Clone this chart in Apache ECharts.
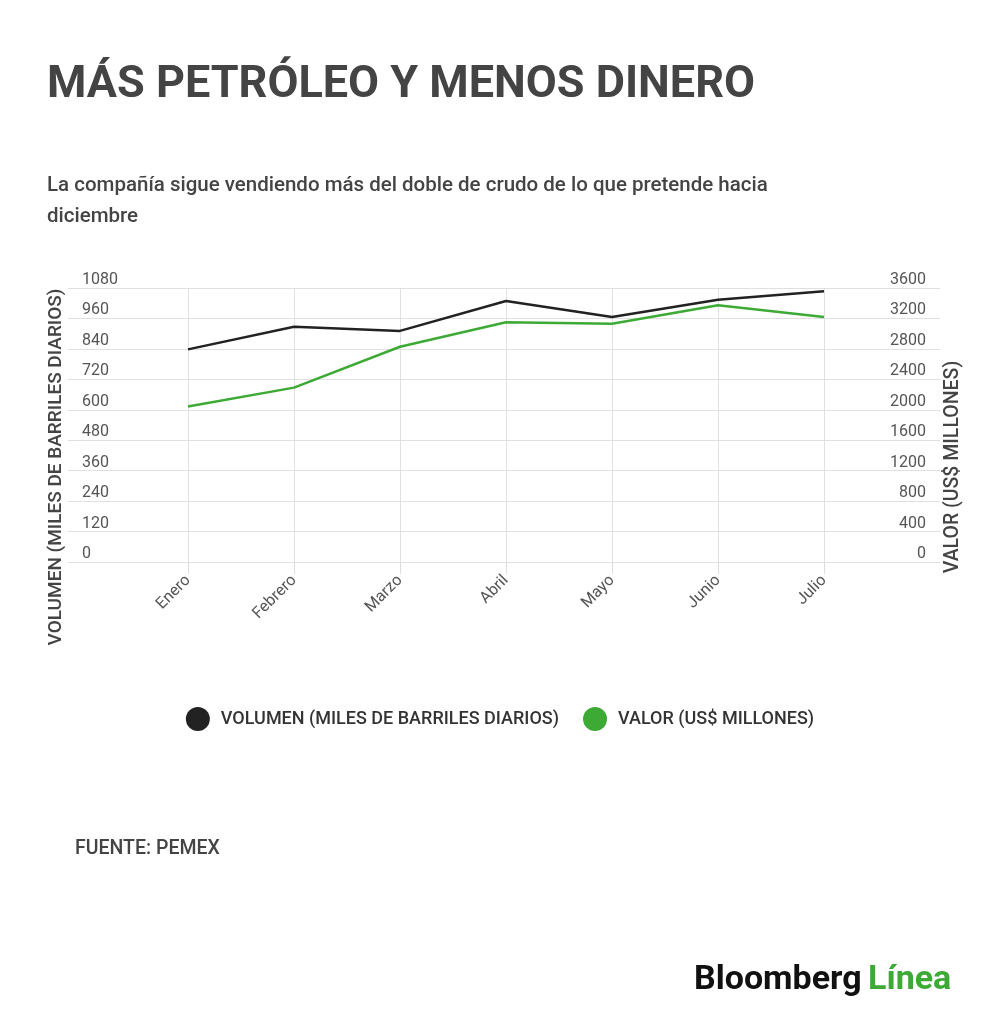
<!DOCTYPE html><html><head><meta charset="utf-8"><script src="https://cdn.jsdelivr.net/npm/echarts@6/dist/echarts.min.js"></script>
<style>body{margin:0;background:#fff}#c{width:1000px;height:1027px}</style></head><body><div id="c"></div><script>
const months=['Enero','Febrero','Marzo','Abril','Mayo','Junio','Julio'];
const volumen=[838,927,911,1029,966,1034,1067];
const valor=[2042,2291,2828,3150,3129,3373,3220];
const c=echarts.init(document.getElementById('c'));
const F='Roboto',G='#555';
c.setOption({
animation:false,
title:[{text:'MÁS PETRÓLEO Y MENOS DINERO',left:42,top:58,textStyle:{fontFamily:F,fontWeight:'bold',fontSize:45,color:'#444'}},
{text:'La compañía sigue vendiendo más del doble de crudo de lo que pretende hacia\ndiciembre',left:42,top:165,textStyle:{fontFamily:F,fontWeight:'500',fontSize:20.5,lineHeight:31,color:'#444'}},
{text:'FUENTE: PEMEX',left:70,top:834,textStyle:{fontFamily:F,fontWeight:'500',fontSize:19.5,color:'#444'}}],
grid:[{left:68,right:60,top:288,height:274},{left:188,right:176,top:288,height:274}],
legend:{top:702,left:'center',icon:'circle',itemWidth:24,itemHeight:24,itemGap:24,textStyle:{fontFamily:F,fontWeight:'500',fontSize:18,padding:[0,0,0,6],color:'#333'},data:['VOLUMEN (MILES DE BARRILES DIARIOS)','VALOR (US$ MILLONES)']},
xAxis:[{gridIndex:0,type:'value',show:false},
{gridIndex:1,type:'category',data:months,boundaryGap:false,axisLine:{show:false},axisTick:{show:true,length:12,lineStyle:{color:'#ddd'}},
 splitLine:{show:true,lineStyle:{color:'#e0e0e0'}},axisLabel:{rotate:45,margin:16,fontFamily:F,fontSize:16,color:G}}],
yAxis:[{gridIndex:0,min:0,max:1080,interval:120,axisLine:{show:false},axisTick:{show:false},splitLine:{lineStyle:{color:'#e0e0e0'}},
 axisLabel:{inside:true,verticalAlign:'bottom',margin:14,fontFamily:F,fontSize:16,color:G,formatter:v=>String(v)}},
{gridIndex:0,position:'right',min:0,max:3600,interval:400,axisLine:{show:false},axisTick:{show:false},splitLine:{show:false},
 axisLabel:{inside:true,verticalAlign:'bottom',margin:14,fontFamily:F,fontSize:16,color:G,formatter:v=>String(v)}},
{gridIndex:1,min:0,max:1080,show:false,splitLine:{show:false}},
{gridIndex:1,min:0,max:3600,show:false,splitLine:{show:false}}],
series:[{name:'VOLUMEN (MILES DE BARRILES DIARIOS)',type:'line',xAxisIndex:1,yAxisIndex:2,data:volumen,showSymbol:false,color:'#222',lineStyle:{width:2.5,color:'#222'}},
{name:'VALOR (US$ MILLONES)',type:'line',xAxisIndex:1,yAxisIndex:3,data:valor,showSymbol:false,color:'#3daa35',lineStyle:{width:2.5,color:'#3daa35'}}],
graphic:[{type:'text',x:56,y:467,rotation:Math.PI/2,style:{text:'VOLUMEN (MILES DE BARRILES DIARIOS)',fontFamily:F,fontWeight:'500',fontSize:19,fill:'#444',align:'center',verticalAlign:'middle'}},
{type:'text',x:953,y:467,rotation:Math.PI/2,style:{text:'VALOR (US$ MILLONES)',fontFamily:F,fontWeight:'500',fontSize:19.5,fill:'#444',align:'center',verticalAlign:'middle'}},
{type:'text',left:694,top:963,style:{text:'Bloomberg',fontFamily:F,fontWeight:'bold',fontSize:34,fill:'#111'}},
{type:'text',left:868,top:963,style:{text:'Línea',fontFamily:F,fontWeight:'bold',fontSize:34,fill:'#3daa35'}}]
});
</script></body></html>
